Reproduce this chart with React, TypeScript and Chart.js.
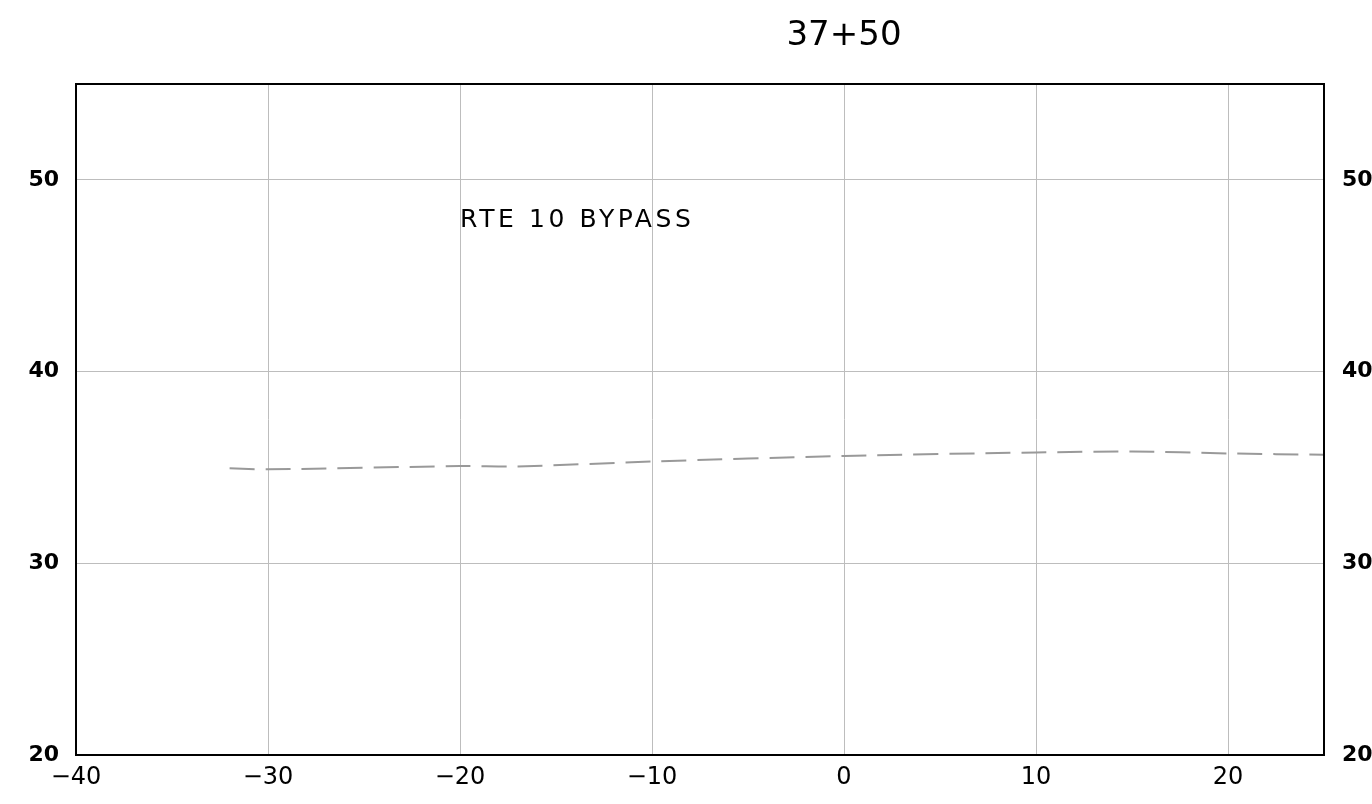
import React, { useEffect, useRef } from "react";
import { Chart, registerables } from "chart.js";

Chart.register(...registerables);

const stationTitle = "37+50";
const annotationText = "RTE 10 BYPASS";
const offsets = [-32, -30, -20, -17, -10, 0, 10, 15, 20, 25];
const elevations = [34.96, 34.9, 35.07, 35.05, 35.31, 35.6, 35.78, 35.83, 35.73, 35.66];
const xMin = -40;
const xMax = 25;
const yMin = 20;
const yMax = 55;
const tickStep = 10;

const FONT = "'DejaVu Sans', sans-serif";

const framePlugin = {
  id: "frameAndText",
  afterDraw(chart: any) {
    const { ctx, chartArea, scales } = chart;
    ctx.save();
    ctx.strokeStyle = "#000";
    ctx.lineWidth = 2;
    ctx.strokeRect(chartArea.left, chartArea.top, chartArea.right - chartArea.left, chartArea.bottom - chartArea.top);
    // title
    ctx.fillStyle = "#000";
    ctx.font = `34px ${FONT}`;
    ctx.textAlign = "center";
    ctx.textBaseline = "middle";
    ctx.fillText(stationTitle, scales.x.getPixelForValue(0), 36);
    // annotation
    ctx.font = `25px ${FONT}`;
    (ctx as any).letterSpacing = "3.6px";
    ctx.textAlign = "left";
    ctx.fillText(annotationText, scales.x.getPixelForValue(-20), scales.y.getPixelForValue(47.9));
    ctx.restore();
  },
};

export default function App() {
  const ref = useRef<HTMLCanvasElement | null>(null);
  useEffect(() => {
    document.body.style.margin = "0";
    const ctx = ref.current!.getContext("2d")!;
    const data = offsets.map((x, i) => ({ x, y: elevations[i] }));
    const xFont = { family: FONT, size: 24 };
    const yFont = { family: FONT, size: 22, weight: "bold" as const };
    const chart = new Chart(ctx, {
      type: "line",
      data: {
        datasets: [
          {
            data,
            borderColor: "#999999",
            borderWidth: 2,
            borderDash: [25, 11],
            pointRadius: 0,
            tension: 0.3,
            fill: false,
          },
        ],
      },
      options: {
        animation: false,
        responsive: true,
        maintainAspectRatio: false,
        layout: { padding: { top: 84, left: 0, right: 0, bottom: 0 } },
        plugins: { legend: { display: false }, tooltip: { enabled: false }, title: { display: false } },
        scales: {
          x: {
            type: "linear",
            min: xMin,
            max: xMax,
            afterFit: (s: any) => { s.height = 49; },
            ticks: {
              stepSize: tickStep,
              includeBounds: false,
              color: "#000",
              font: xFont,
              padding: 8,
              maxRotation: 0,
              callback: (v: any) => String(v).replace("-", "\u2212"),
            },
            grid: { color: "#bdbdbd", lineWidth: 1, drawTicks: false },
            border: { display: false },
          },
          y: {
            type: "linear",
            position: "left",
            min: yMin,
            max: yMax,
            afterFit: (s: any) => { s.width = 76; },
            ticks: { stepSize: tickStep, includeBounds: false, color: "#000", font: yFont, padding: 17 },
            grid: { color: "#bdbdbd", lineWidth: 1, drawTicks: false },
            border: { display: false },
          },
          y2: {
            type: "linear",
            position: "right",
            min: yMin,
            max: yMax,
            afterFit: (s: any) => { s.width = 48; },
            ticks: { stepSize: tickStep, includeBounds: false, color: "#000", font: yFont, padding: 18 },
            grid: { display: false, drawTicks: false },
            border: { display: false },
          },
        },
      },
      plugins: [framePlugin],
    } as any);
    return () => chart.destroy();
  }, []);
  return (
    <div style={{ position: "absolute", left: 0, top: 0, width: 1372, height: 804, background: "#fff" }}>
      <canvas ref={ref} />
    </div>
  );
}
